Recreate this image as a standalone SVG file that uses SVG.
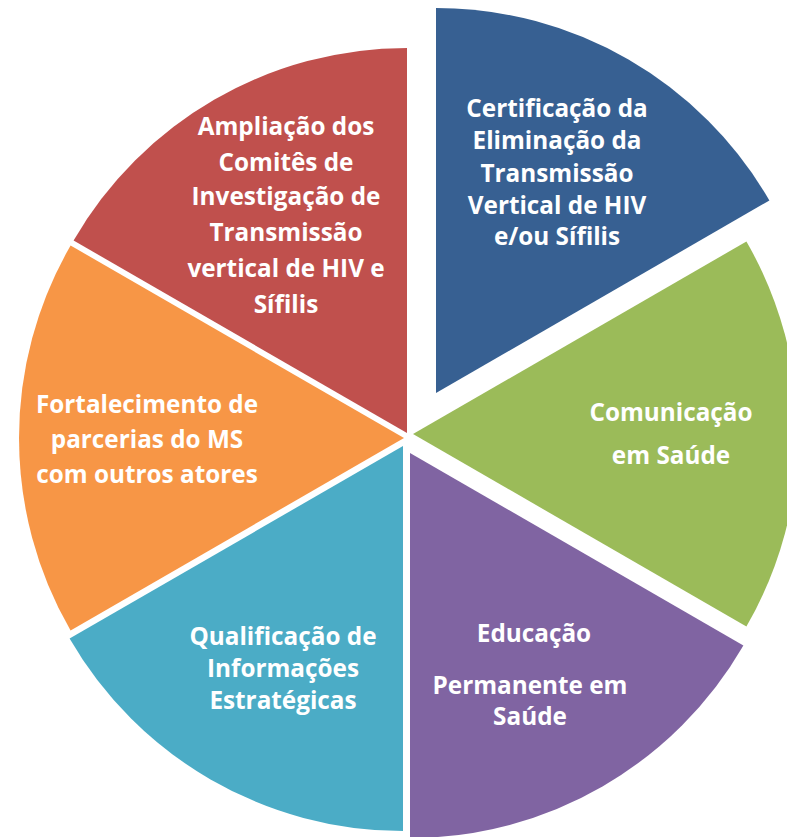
<svg xmlns="http://www.w3.org/2000/svg" width="787" height="837" viewBox="0 0 787 837">
<style>
.t{font-family:"Open Sans",Lato,"Liberation Sans",sans-serif;font-weight:bold;font-size:24.3px;fill:#fff;text-anchor:middle}
</style>
<rect width="787" height="837" fill="#fff"/>
<g id="blue">
<path d="M436,393 L436,8 A385,385 0 0 1 769.4,200.5 Z" fill="#376092"/>
<text class="t" x="557" y="117">Certificação da</text>
<text class="t" x="557" y="149">Eliminação da</text>
<text class="t" x="557" y="182">Transmissão</text>
<text class="t" x="557" y="214">Vertical de HIV</text>
<text class="t" x="557" y="245">e/ou Sífilis</text>
</g>
<g id="green">
<path d="M413,434 L746.4,241.5 A385,385 0 0 1 746.4,626.5 Z" fill="#9BBB59"/>
<text class="t" x="671" y="421">Comunicação</text>
<text class="t" x="671" y="464">em Saúde</text>
</g>
<g id="purple">
<path d="M410,453 L743.4,645.5 A385,385 0 0 1 410,838 Z" fill="#8064A2"/>
<text class="t" x="534" y="642">Educação</text>
<text class="t" x="530" y="694">Permanente em</text>
<text class="t" x="530" y="725">Saúde</text>
</g>
<g id="teal">
<path d="M403,446 L403,831 A385,385 0 0 1 69.6,638.5 Z" fill="#4BACC6"/>
<text class="t" x="283" y="645">Qualificação de</text>
<text class="t" x="283" y="677">Informações</text>
<text class="t" x="283" y="709">Estratégicas</text>
</g>
<g id="orange">
<path d="M404,438 L70.6,630.5 A385,385 0 0 1 70.6,245.5 Z" fill="#F79646"/>
<text class="t" x="147" y="413">Fortalecimento de</text>
<text class="t" x="147" y="448">parcerias do MS</text>
<text class="t" x="147" y="483">com outros atores</text>
</g>
<g id="red">
<path d="M407,433 L73.6,240.5 A385,385 0 0 1 407,48 Z" fill="#C0504D"/>
<text class="t" x="286" y="135">Ampliação dos</text>
<text class="t" x="286" y="171">Comitês de</text>
<text class="t" x="286" y="205">Investigação de</text>
<text class="t" x="286" y="241">Transmissão</text>
<text class="t" x="286" y="277">vertical de HIV e</text>
<text class="t" x="286" y="313">Sífilis</text>
</g>
<g id="connectors"/>
</svg>
